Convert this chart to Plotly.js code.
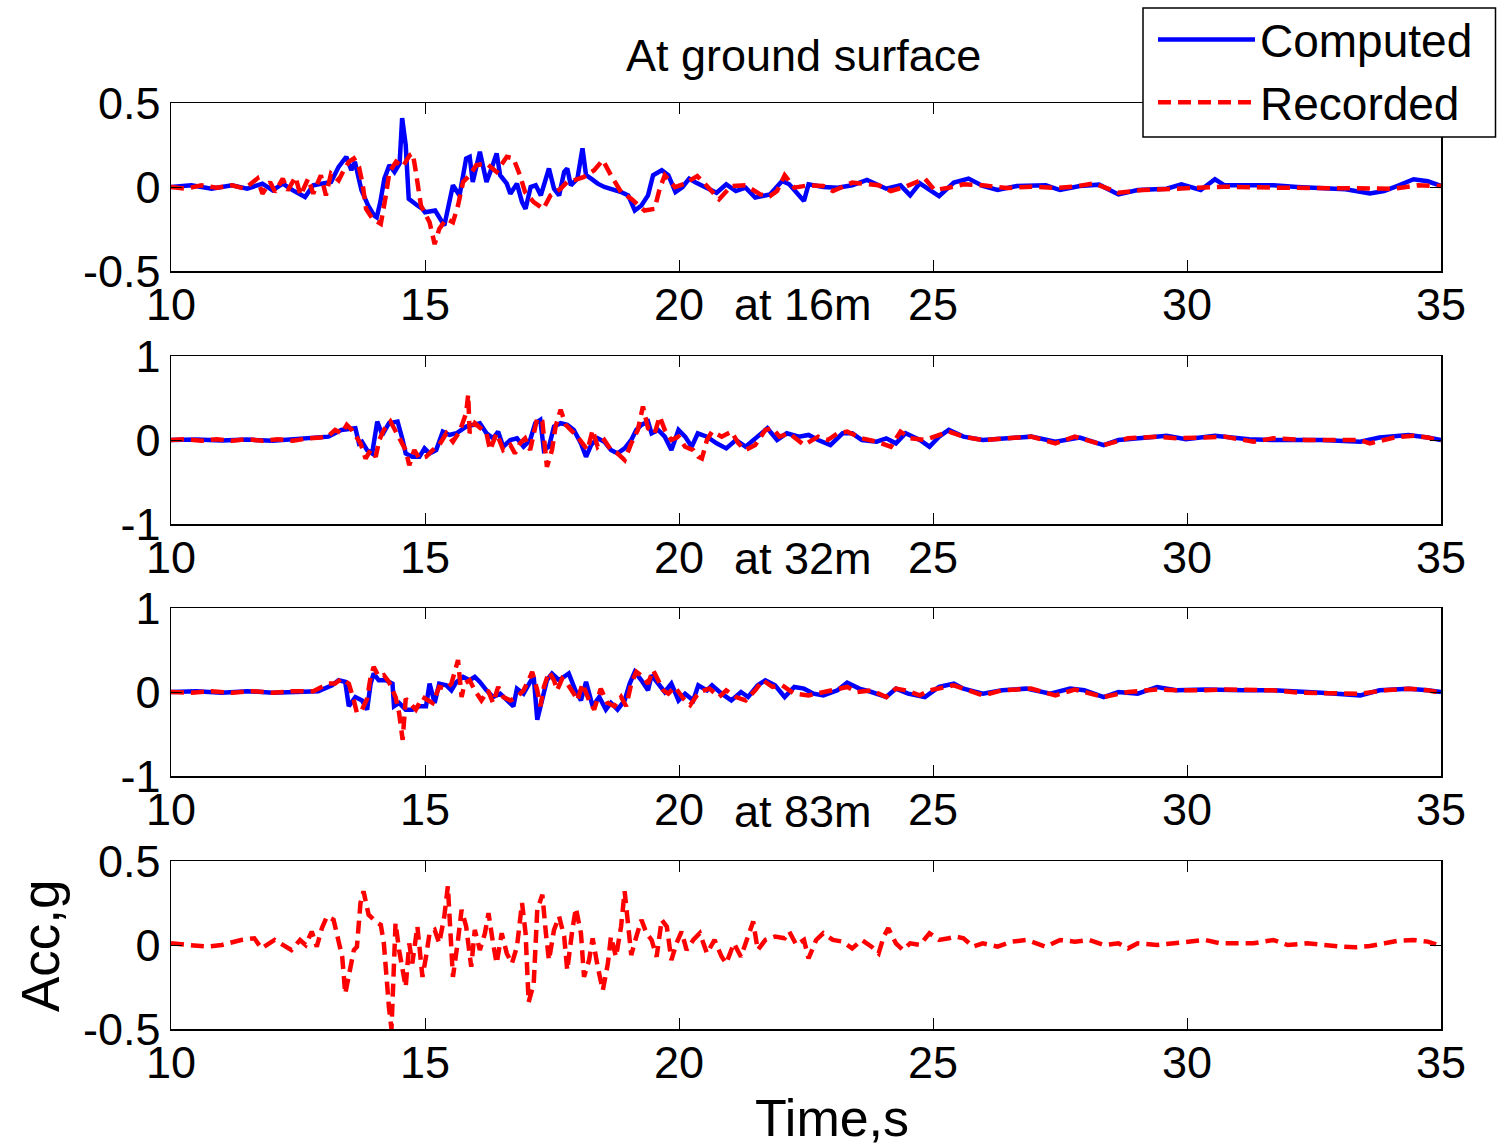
<!DOCTYPE html>
<html><head><meta charset="utf-8">
<script src="https://cdn.plot.ly/plotly-3.0.1.min.js"></script>
<style>html,body{margin:0;padding:0;background:#fff;overflow:hidden}</style>
</head><body><div id="chart" style="width:1497px;height:1147px"></div>
<script>
// ---------- DATA (time s, acceleration g) ----------
const panelTitles = ["At ground surface", "at 16m", "at 32m", "at 83m"];
const seriesNames = ["Computed", "Recorded"];
const xTickVals = [10, 15, 20, 25, 30, 35];
const xTickText = ["10", "15", "20", "25", "30", "35"];
const yTickValsHalf = [-0.5, 0, 0.5];
const yTickTextHalf = ["-0.5", "0", "0.5"];
const yTickValsOne = [-1, 0, 1];
const yTickTextOne = ["-1", "0", "1"];

const surfComputed = [[10.0,0],[10.4,0.01],[10.8,-0.01],[11.2,0.01],[11.5,-0.01],[11.8,0.02],[12.0,-0.02],[12.2,0.02],[12.4,-0.02],[12.64,-0.06],[12.8,0.01],[13.0,0.02],[13.15,0.03],[13.3,0.12],[13.45,0.18],[13.55,0.10],[13.62,0.15],[13.75,-0.02],[13.88,-0.11],[14.0,-0.17],[14.05,-0.18],[14.12,-0.09],[14.2,0.05],[14.3,0.13],[14.4,0.09],[14.5,0.14],[14.55,0.41],[14.62,0.25],[14.68,-0.07],[14.85,-0.11],[14.95,-0.13],[15.0,-0.15],[15.2,-0.14],[15.38,-0.23],[15.55,0.01],[15.68,-0.05],[15.81,0.17],[15.88,0.18],[15.94,0.03],[16.08,0.21],[16.21,0.03],[16.31,0.11],[16.41,0.20],[16.48,0.07],[16.61,0.02],[16.68,-0.04],[16.81,0.02],[16.91,-0.09],[16.98,-0.13],[17.08,0.0],[17.18,0.01],[17.28,-0.05],[17.38,0.05],[17.44,0.11],[17.54,-0.01],[17.64,-0.05],[17.74,0.09],[17.8,0.11],[17.87,0.01],[18.0,0.05],[18.1,0.23],[18.17,0.07],[18.27,0.05],[18.4,0.02],[18.53,0.0],[18.66,-0.01],[18.86,-0.03],[19.0,-0.05],[19.13,-0.14],[19.26,-0.11],[19.39,-0.05],[19.49,0.07],[19.66,0.10],[19.79,0.07],[19.93,-0.03],[20.07,0.0],[20.2,0.05],[20.33,0.026],[20.46,0.006],[20.74,-0.034],[20.93,0.016],[21.12,-0.024],[21.31,-0.004],[21.5,-0.063],[21.79,-0.044],[22.03,0.036],[22.17,0.016],[22.46,-0.083],[22.55,0.016],[22.84,0],[23.12,-0.004],[23.41,0.01],[23.7,0.042],[24.08,-0.01],[24.36,0.01],[24.55,-0.05],[24.74,0.022],[25.12,-0.054],[25.41,0.026],[25.7,0.05],[25.98,0.006],[26.27,-0.018],[26.65,0.006],[27.22,0.01],[27.5,-0.018],[27.89,0.006],[28.27,0.014],[28.65,-0.044],[29.03,-0.018],[29.6,-0.01],[29.89,0.016],[30.27,-0.018],[30.55,0.046],[30.74,0.01],[31.22,0.01],[31.7,0.01],[32.17,0],[32.65,-0.004],[33.12,-0.014],[33.6,-0.038],[33.88,-0.024],[34.17,0.01],[34.46,0.046],[34.74,0.034],[35.0,0.006]];

const surfRecorded = [[10.0,0],[10.3,-0.01],[10.6,0.01],[10.9,-0.005],[11.2,0.01],[11.45,-0.01],[11.7,0.05],[11.8,-0.04],[11.95,0.03],[12.05,-0.03],[12.2,0.05],[12.3,-0.02],[12.45,0.06],[12.55,-0.05],[12.7,0.05],[12.8,-0.04],[12.95,0.07],[13.05,-0.05],[13.15,0.08],[13.3,0.04],[13.4,0.10],[13.5,0.15],[13.6,0.17],[13.7,0.12],[13.77,0.02],[13.84,-0.13],[13.97,-0.19],[14.13,-0.22],[14.23,-0.05],[14.3,0.09],[14.43,0.15],[14.56,0.12],[14.7,0.19],[14.76,0.20],[14.82,0.09],[14.89,-0.03],[14.92,-0.11],[15.09,-0.21],[15.19,-0.34],[15.28,-0.25],[15.42,-0.19],[15.55,-0.21],[15.65,-0.11],[15.75,0.03],[15.88,0.07],[16.01,0.13],[16.21,0.14],[16.41,0.09],[16.61,0.18],[16.74,0.17],[16.87,0.07],[16.97,-0.03],[17.14,-0.09],[17.33,-0.13],[17.47,-0.05],[17.67,-0.01],[17.8,0.03],[17.93,0.04],[18.13,0.06],[18.33,0.10],[18.5,0.16],[18.66,0.07],[18.86,-0.03],[19.06,-0.07],[19.22,-0.11],[19.32,-0.14],[19.52,-0.13],[19.62,-0.01],[19.72,0.07],[19.92,0.0],[20.11,0.02],[20.36,0.065],[20.55,0.006],[20.79,-0.073],[21.03,0.006],[21.31,0.01],[21.6,-0.044],[21.79,-0.054],[21.93,-0.024],[22.08,0.07],[22.27,-0.004],[22.55,0.01],[22.84,0.006],[23.03,-0.024],[23.41,0.026],[23.7,0.016],[23.93,0.01],[24.17,-0.024],[24.46,0.002],[24.84,0.05],[25.03,-0.018],[25.31,-0.004],[25.6,0.016],[25.98,0.01],[26.46,-0.006],[26.93,0.002],[27.41,-0.006],[27.79,0.002],[28.17,0.022],[28.65,-0.034],[29.12,-0.018],[29.79,-0.01],[30.27,-0.004],[30.74,0.002],[31.7,-0.004],[32.65,-0.006],[33.41,-0.006],[34.08,-0.01],[34.55,0.01],[35.0,0.006]];

const m16Computed = [[10.0,0],[10.5,0.005],[11.0,-0.005],[11.5,0.005],[12.0,-0.01],[12.5,0.01],[12.8,0.02],[13.1,0.04],[13.35,0.12],[13.63,0.14],[13.7,-0.04],[13.76,-0.02],[13.86,-0.12],[13.96,-0.16],[14.06,0.22],[14.16,0.06],[14.29,0.20],[14.46,0.22],[14.56,0.0],[14.62,-0.16],[14.75,-0.20],[14.89,-0.20],[14.99,-0.10],[15.09,-0.16],[15.22,-0.12],[15.35,0.10],[15.48,0.06],[15.62,0.08],[15.81,0.16],[15.95,0.18],[16.08,0.20],[16.21,0.08],[16.34,0.02],[16.44,0.10],[16.54,-0.08],[16.68,0.0],[16.81,0.02],[16.94,-0.08],[17.07,0.0],[17.17,0.20],[17.27,0.24],[17.34,-0.12],[17.44,-0.08],[17.54,0.16],[17.67,0.20],[17.8,0.18],[17.93,0.12],[18.07,-0.04],[18.17,-0.20],[18.27,-0.06],[18.4,0.02],[18.53,-0.02],[18.66,-0.12],[18.79,-0.16],[18.93,-0.10],[19.06,0.0],[19.16,0.12],[19.26,0.18],[19.39,0.22],[19.46,0.08],[19.59,0.12],[19.72,0.04],[19.85,-0.12],[19.99,0.12],[20.12,0.04],[20.25,-0.08],[20.37,0.08],[20.55,0.04],[20.74,-0.04],[20.93,-0.10],[21.12,0.0],[21.31,-0.08],[21.5,0.02],[21.74,0.14],[21.93,0.0],[22.12,0.08],[22.36,0.04],[22.55,0.06],[22.74,0.0],[22.98,-0.06],[23.22,0.08],[23.41,0.08],[23.6,0.0],[23.89,-0.02],[24.08,0.02],[24.27,-0.04],[24.46,0.08],[24.74,0.0],[24.93,-0.08],[25.12,0.04],[25.31,0.12],[25.6,0.04],[25.98,0.0],[26.46,0.02],[26.93,0.04],[27.41,-0.02],[27.89,0.03],[28.36,-0.06],[28.65,0.0],[29.22,0.03],[29.6,0.05],[29.98,0.01],[30.55,0.05],[31.22,0.01],[31.7,0.0],[32.65,0.0],[33.41,-0.02],[33.79,0.03],[34.36,0.06],[34.74,0.03],[35.0,0.0]];

const m16Recorded = [[10.0,0],[10.3,0.01],[10.6,-0.01],[10.9,0.01],[11.2,-0.01],[11.5,0.01],[11.8,-0.01],[12.1,0.01],[12.4,-0.01],[12.7,0.02],[12.95,0.03],[13.1,0.05],[13.23,0.12],[13.36,0.08],[13.46,0.18],[13.56,0.12],[13.73,-0.04],[13.83,-0.22],[13.93,-0.12],[14.03,-0.20],[14.1,0.0],[14.19,0.12],[14.32,0.22],[14.42,0.10],[14.56,-0.04],[14.62,-0.12],[14.69,-0.30],[14.79,-0.12],[14.89,-0.22],[15.02,-0.20],[15.15,-0.12],[15.28,-0.06],[15.42,0.08],[15.55,-0.02],[15.68,0.10],[15.81,0.32],[15.85,0.54],[15.88,0.08],[15.98,0.20],[16.08,0.14],[16.21,0.08],[16.28,-0.12],[16.41,0.08],[16.54,-0.12],[16.68,-0.06],[16.77,-0.16],[16.87,-0.04],[16.97,0.02],[17.07,-0.12],[17.21,0.26],[17.31,0.22],[17.4,-0.32],[17.5,-0.12],[17.57,0.16],[17.67,0.36],[17.77,0.18],[17.87,0.12],[18.0,0.04],[18.1,-0.04],[18.2,-0.12],[18.3,0.12],[18.4,-0.08],[18.53,0.0],[18.66,-0.12],[18.79,-0.16],[18.93,-0.24],[19.06,-0.04],[19.19,0.12],[19.29,0.40],[19.39,0.14],[19.52,0.08],[19.62,0.28],[19.72,0.12],[19.85,0.0],[19.99,0.04],[20.12,-0.08],[20.28,-0.12],[20.38,-0.20],[20.45,-0.22],[20.55,0.0],[20.65,0.10],[20.84,0.04],[21.03,0.10],[21.17,-0.04],[21.31,-0.12],[21.5,-0.06],[21.7,0.12],[21.84,0.14],[21.98,0.04],[22.17,0.08],[22.46,-0.06],[22.74,0.04],[22.93,0.0],[23.12,0.08],[23.31,0.10],[23.6,0.02],[23.89,-0.02],[24.17,-0.08],[24.36,0.10],[24.55,0.02],[24.84,0.0],[25.03,0.04],[25.31,0.10],[25.6,0.04],[25.98,0.0],[26.46,0.02],[26.93,0.04],[27.41,-0.04],[27.79,0.04],[28.36,-0.06],[28.84,0.02],[29.41,0.04],[29.79,0.02],[30.36,0.03],[30.74,0.04],[31.31,-0.02],[31.7,0.02],[32.36,0.0],[33.41,0.0],[33.6,-0.04],[34.08,0.03],[34.46,0.05],[34.74,0.03],[35.0,-0.01]];

const m32Computed = [[10.0,0],[10.5,0.01],[11.0,-0.01],[11.5,0.01],[12.0,-0.01],[12.5,0.0],[12.9,0.01],[13.17,0.08],[13.3,0.14],[13.43,0.12],[13.5,-0.17],[13.63,-0.06],[13.76,-0.10],[13.86,-0.21],[13.93,0.10],[13.99,0.22],[14.09,0.14],[14.23,0.14],[14.36,0.10],[14.39,-0.17],[14.49,-0.13],[14.62,-0.21],[14.75,-0.21],[14.89,-0.17],[15.02,-0.17],[15.09,0.10],[15.19,-0.13],[15.28,0.10],[15.42,0.08],[15.52,0.02],[15.62,0.12],[15.75,0.18],[15.88,0.14],[15.98,0.18],[16.08,0.12],[16.21,0.02],[16.34,-0.06],[16.48,-0.02],[16.61,-0.10],[16.74,-0.17],[16.81,0.04],[16.94,-0.02],[17.07,0.12],[17.14,0.18],[17.21,-0.33],[17.31,-0.10],[17.4,0.14],[17.5,0.22],[17.64,0.14],[17.83,0.22],[17.96,0.02],[18.07,-0.10],[18.17,0.12],[18.3,-0.17],[18.43,-0.06],[18.56,-0.21],[18.66,-0.13],[18.79,-0.21],[18.93,-0.10],[19.03,0.10],[19.13,0.24],[19.26,0.14],[19.39,0.02],[19.46,0.20],[19.59,0.10],[19.72,0.0],[19.85,0.10],[19.99,-0.10],[20.12,-0.02],[20.28,-0.10],[20.38,0.08],[20.55,0.02],[20.65,0.08],[20.84,-0.02],[21.03,-0.10],[21.22,0.0],[21.36,-0.06],[21.55,0.08],[21.7,0.14],[21.89,0.08],[22.08,-0.06],[22.27,0.06],[22.46,0.04],[22.65,-0.02],[22.84,-0.04],[23.12,0.02],[23.31,0.11],[23.55,0.04],[23.79,0.0],[24.08,-0.06],[24.27,0.04],[24.51,-0.02],[24.84,-0.06],[25.12,0.06],[25.41,0.10],[25.6,0.04],[25.98,-0.02],[26.36,0.02],[26.84,0.04],[27.31,-0.02],[27.7,0.04],[27.98,0.02],[28.36,-0.06],[28.65,0.0],[29.03,-0.02],[29.41,0.06],[29.79,0.02],[30.36,0.03],[31.12,0.02],[31.7,0.02],[32.65,-0.01],[33.41,-0.04],[33.79,0.02],[34.36,0.04],[34.74,0.02],[35.0,0.0]];

const m32Recorded = [[10.0,0],[10.4,-0.01],[10.8,0.01],[11.2,-0.01],[11.6,0.01],[12.0,-0.01],[12.4,0.01],[12.8,0.01],[13.1,0.10],[13.23,0.10],[13.36,0.16],[13.5,0.10],[13.6,-0.10],[13.66,-0.25],[13.76,-0.21],[13.86,-0.08],[13.93,0.18],[13.99,0.30],[14.09,0.18],[14.19,0.20],[14.29,0.12],[14.42,-0.06],[14.49,-0.25],[14.56,-0.57],[14.62,-0.08],[14.69,-0.13],[14.82,-0.21],[14.95,-0.06],[15.05,-0.10],[15.15,-0.13],[15.28,0.06],[15.42,0.04],[15.52,0.10],[15.58,0.24],[15.65,0.38],[15.72,-0.06],[15.78,0.10],[15.88,0.14],[15.98,0.02],[16.11,-0.10],[16.24,0.02],[16.34,-0.13],[16.44,0.06],[16.54,-0.06],[16.68,-0.10],[16.81,-0.06],[16.94,0.02],[17.04,0.14],[17.11,0.24],[17.21,0.02],[17.27,-0.17],[17.34,0.06],[17.44,0.24],[17.54,0.14],[17.6,0.02],[17.7,0.16],[17.8,0.10],[17.93,-0.02],[18.0,-0.10],[18.1,0.10],[18.23,-0.10],[18.33,-0.21],[18.46,0.04],[18.59,-0.13],[18.73,-0.17],[18.86,-0.06],[18.96,-0.17],[19.06,0.10],[19.16,0.24],[19.29,0.18],[19.39,0.10],[19.49,0.26],[19.59,0.14],[19.69,0.02],[19.79,-0.02],[19.92,0.06],[20.09,-0.08],[20.22,-0.155],[20.35,-0.04],[20.41,0.0],[20.6,0.04],[20.79,-0.06],[20.93,0.02],[21.12,-0.06],[21.31,-0.10],[21.5,0.02],[21.65,0.14],[21.84,0.06],[22.03,0.08],[22.27,-0.02],[22.55,-0.04],[22.84,0.0],[23.12,0.04],[23.31,0.06],[23.5,0.0],[23.79,0.02],[24.08,-0.06],[24.27,0.04],[24.46,0.02],[24.74,-0.04],[24.93,0.02],[25.22,0.06],[25.41,0.08],[25.7,0.02],[25.98,-0.04],[26.36,0.02],[26.93,0.04],[27.41,-0.04],[27.79,0.03],[28.36,-0.06],[28.84,0.0],[29.41,0.03],[29.79,0.02],[30.36,0.02],[30.74,0.03],[31.7,0.02],[32.27,-0.01],[33.41,-0.02],[33.89,0.02],[34.36,0.04],[34.74,0.02],[35.0,-0.01]];

const m83Recorded = [[10.0,0.01],[10.4,0.0],[10.72,-0.01],[11.0,0.0],[11.38,0.03],[11.64,0.04],[11.78,-0.02],[12.04,0.03],[12.2,0.0],[12.37,-0.03],[12.54,0.03],[12.65,0.0],[12.77,0.08],[12.87,-0.01],[12.97,0.10],[13.07,0.17],[13.2,0.15],[13.3,0.03],[13.37,-0.07],[13.43,-0.29],[13.53,-0.15],[13.6,-0.03],[13.66,-0.01],[13.73,0.25],[13.79,0.32],[13.89,0.18],[14.03,0.14],[14.13,0.12],[14.19,0.01],[14.24,-0.23],[14.29,-0.37],[14.34,-0.50],[14.39,-0.19],[14.42,0.13],[14.49,-0.03],[14.56,-0.15],[14.62,-0.25],[14.69,0.01],[14.75,-0.11],[14.85,0.11],[14.95,-0.19],[15.02,-0.07],[15.09,0.07],[15.19,0.09],[15.28,0.01],[15.38,0.17],[15.45,0.35],[15.52,-0.03],[15.55,-0.19],[15.65,0.03],[15.72,0.21],[15.81,0.11],[15.91,-0.13],[15.98,0.09],[16.08,-0.03],[16.18,0.07],[16.25,0.19],[16.34,0.01],[16.41,-0.11],[16.51,0.07],[16.61,-0.05],[16.71,-0.11],[16.81,-0.01],[16.91,0.25],[16.98,0.07],[17.04,-0.34],[17.14,-0.23],[17.21,0.21],[17.31,0.30],[17.38,0.07],[17.44,-0.09],[17.54,0.09],[17.64,0.17],[17.74,0.05],[17.8,-0.15],[17.9,0.09],[17.97,0.22],[18.07,0.07],[18.13,-0.19],[18.23,-0.09],[18.3,0.04],[18.4,-0.13],[18.5,-0.27],[18.6,-0.11],[18.66,0.05],[18.76,-0.07],[18.86,0.11],[18.93,0.32],[18.99,0.13],[19.06,-0.06],[19.16,0.05],[19.26,0.15],[19.36,0.07],[19.46,0.03],[19.56,-0.07],[19.66,0.15],[19.76,0.11],[19.85,-0.09],[19.95,0.01],[20.05,0.08],[20.15,-0.03],[20.28,0.03],[20.41,0.07],[20.55,-0.05],[20.7,0.03],[20.84,-0.07],[20.93,-0.11],[21.08,0.01],[21.22,-0.07],[21.36,0.05],[21.46,0.14],[21.55,-0.03],[21.7,0.03],[21.89,0.05],[22.08,0.04],[22.17,0.08],[22.31,0.0],[22.46,0.03],[22.55,-0.08],[22.7,0.03],[22.84,0.07],[23.03,0.03],[23.22,0.02],[23.41,-0.02],[23.6,0.03],[23.79,-0.01],[23.93,-0.05],[24.03,0.05],[24.12,0.10],[24.27,0.01],[24.41,-0.03],[24.55,0.01],[24.74,0.0],[24.93,0.07],[25.12,0.03],[25.31,0.04],[25.45,0.05],[25.6,0.04],[25.79,-0.01],[25.98,0.01],[26.27,-0.01],[26.55,0.02],[26.84,0.03],[27.22,-0.01],[27.5,0.03],[27.79,0.02],[28.08,0.03],[28.36,0.0],[28.65,0.01],[28.84,-0.02],[29.03,0.01],[29.41,0.0],[29.79,0.01],[30.08,0.02],[30.36,0.03],[30.65,0.01],[31.03,0.01],[31.31,0.01],[31.7,0.03],[31.98,0.0],[32.36,0.01],[32.65,0.0],[33.03,-0.01],[33.31,-0.014],[33.6,-0.006],[33.89,0.01],[34.17,0.026],[34.46,0.03],[34.74,0.02],[35.0,-0.006]];

// ---------- FIGURE ----------
const FONT = 'Liberation Sans, Arial, Helvetica, sans-serif';
const BLUE = '#0000ff', RED = '#ff0000';
const panels = [
  {comp: surfComputed, rec: surfRecorded, yr: [-0.5, 0.5], tv: yTickValsHalf, tt: yTickTextHalf},
  {comp: m16Computed, rec: m16Recorded, yr: [-1, 1], tv: yTickValsOne, tt: yTickTextOne},
  {comp: m32Computed, rec: m32Recorded, yr: [-1, 1], tv: yTickValsOne, tt: yTickTextOne},
  {comp: null, rec: m83Recorded, yr: [-0.5, 0.5], tv: yTickValsHalf, tt: yTickTextHalf}
];
const W = 1497, H = 1147;
const plotLeft = 171, plotRight = 1441;
const panelTops = [103, 356, 608, 861], panelH = 168;

const traces = [];
const layout = {
  width: W, height: H,
  margin: {l: 0, r: 0, t: 0, b: 0, pad: 0},
  paper_bgcolor: '#fff', plot_bgcolor: '#fff',
  font: {family: FONT, size: 45, color: '#000'},
  showlegend: true,
  legend: {
    x: 1153 / W, y: 1 - 3 / H, xanchor: 'left', yanchor: 'top',
    bgcolor: 'rgba(0,0,0,0)', borderwidth: 0,
    font: {family: FONT, size: 46, color: '#000'},
    itemwidth: 97, tracegroupgap: 0
  },
  annotations: [],
  shapes: [{
    type: 'rect', xref: 'paper', yref: 'paper', layer: 'above',
    x0: 1143 / W, x1: 1495.5 / W, y0: 1 - 137 / H, y1: 1 - 8 / H,
    fillcolor: '#fff', line: {color: '#000', width: 1.5}
  }]
};

panels.forEach((p, i) => {
  const n = i === 0 ? '' : String(i + 1);
  const xa = 'x' + n, ya = 'y' + n;
  if (p.comp) {
    traces.push({
      x: p.comp.map(d => d[0]), y: p.comp.map(d => d[1]),
      xaxis: xa, yaxis: ya, type: 'scatter', mode: 'lines',
      name: seriesNames[0], showlegend: i === 0, legendgroup: 'c',
      line: {color: BLUE, width: 4.5}
    });
  }
  traces.push({
    x: p.rec.map(d => d[0]), y: p.rec.map(d => d[1]),
    xaxis: xa, yaxis: ya, type: 'scatter', mode: 'lines',
    name: seriesNames[1], showlegend: i === 0, legendgroup: 'r',
    line: {color: RED, width: 4.5, dash: '13px,7px'}
  });
  const top = panelTops[i], bot = top + panelH;
  layout['xaxis' + n] = {
    domain: [plotLeft / W, plotRight / W], anchor: ya,
    range: [10, 35], tickmode: 'array', tickvals: xTickVals, ticktext: xTickText,
    ticks: 'inside', ticklen: 11, tickwidth: 1, tickcolor: '#000',
    showline: true, linecolor: '#000', linewidth: 1.5, mirror: 'ticks',
    showgrid: false, zeroline: false, fixedrange: true, ticklabelstandoff: -7,
    tickfont: {family: FONT, size: 45, color: '#000'}
  };
  layout['yaxis' + n] = {
    domain: [1 - bot / H, 1 - top / H], anchor: xa,
    range: p.yr, tickmode: 'array', tickvals: p.tv, ticktext: p.tt,
    ticks: 'inside', ticklen: 11, tickwidth: 1, tickcolor: '#000',
    showline: true, linecolor: '#000', linewidth: 1.5, mirror: 'ticks',
    showgrid: false, zeroline: false, fixedrange: true,
    tickfont: {family: FONT, size: 45, color: '#000'}
  };
});

// Panel titles
const titleY = [55, 305, 558, 811];
panelTitles.forEach((t, i) => {
  layout.annotations.push({
    text: t, xref: 'paper', yref: 'paper', x: 803 / W, y: 1 - titleY[i] / H,
    xanchor: 'center', yanchor: 'middle', showarrow: false,
    font: {family: FONT, size: 45, color: '#000'}
  });
});
// Axis labels
layout.annotations.push({
  text: 'Time,s', xref: 'paper', yref: 'paper', x: 832 / W, y: 1 - 1118 / H,
  xanchor: 'center', yanchor: 'middle', showarrow: false,
  font: {family: FONT, size: 52, color: '#000'}
});
layout.annotations.push({
  text: 'Acc,g', xref: 'paper', yref: 'paper', x: 40 / W, y: 1 - 946 / H,
  xanchor: 'center', yanchor: 'middle', showarrow: false, textangle: -90,
  font: {family: FONT, size: 53, color: '#000'}
});

Plotly.newPlot('chart', traces, layout, {staticPlot: true, displayModeBar: false});
</script></body></html>
